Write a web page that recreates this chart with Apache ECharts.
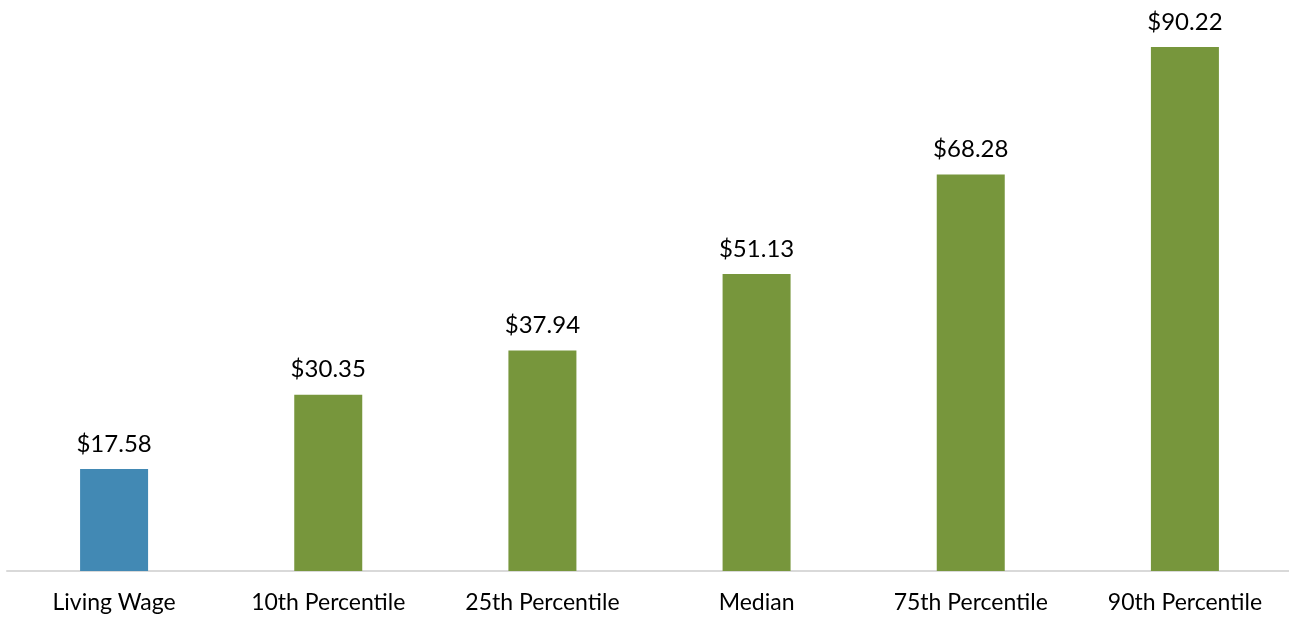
<!DOCTYPE html>
<html>
<head>
<meta charset="utf-8">
<script src="https://cdn.jsdelivr.net/npm/echarts@6/dist/echarts.min.js"></script>
<style>html,body{margin:0;padding:0;background:#fff;}#c{width:1289px;height:620px;}</style>
</head>
<body>
<div id="c"></div>
<script>
const categories = ["Living Wage", "10th Percentile", "25th Percentile", "Median", "75th Percentile", "90th Percentile"];
const values = [17.58, 30.35, 37.94, 51.13, 68.28, 90.22];
const barColors = ["#4289B4", "#77963C", "#77963C", "#77963C", "#77963C", "#77963C"];

const chart = echarts.init(document.getElementById('c'));
chart.setOption({
  animation: false,
  grid: { left: 7, right: -3, top: 0, bottom: 49, containLabel: false, outerBoundsMode: 'none' },
  xAxis: {
    type: 'category',
    data: categories,
    axisTick: { show: false },
    axisLine: { lineStyle: { color: '#D9D9D9', width: 2 } },
    axisLabel: { color: '#000', fontSize: 23, fontFamily: 'Lato', margin: 20 }
  },
  yAxis: {
    type: 'value', min: 0, max: 98.3,
    show: false,
    splitLine: { show: false }
  },
  series: [{
    type: 'bar',
    barWidth: 68,
    data: values.map((v, i) => ({ value: v, itemStyle: { color: barColors[i] } })),
    label: {
      show: true, position: 'top', distance: 13,
      color: '#000', fontSize: 24, fontFamily: 'Lato',
      formatter: p => '$' + p.value.toFixed(2)
    }
  }]
});
</script>
</body>
</html>
